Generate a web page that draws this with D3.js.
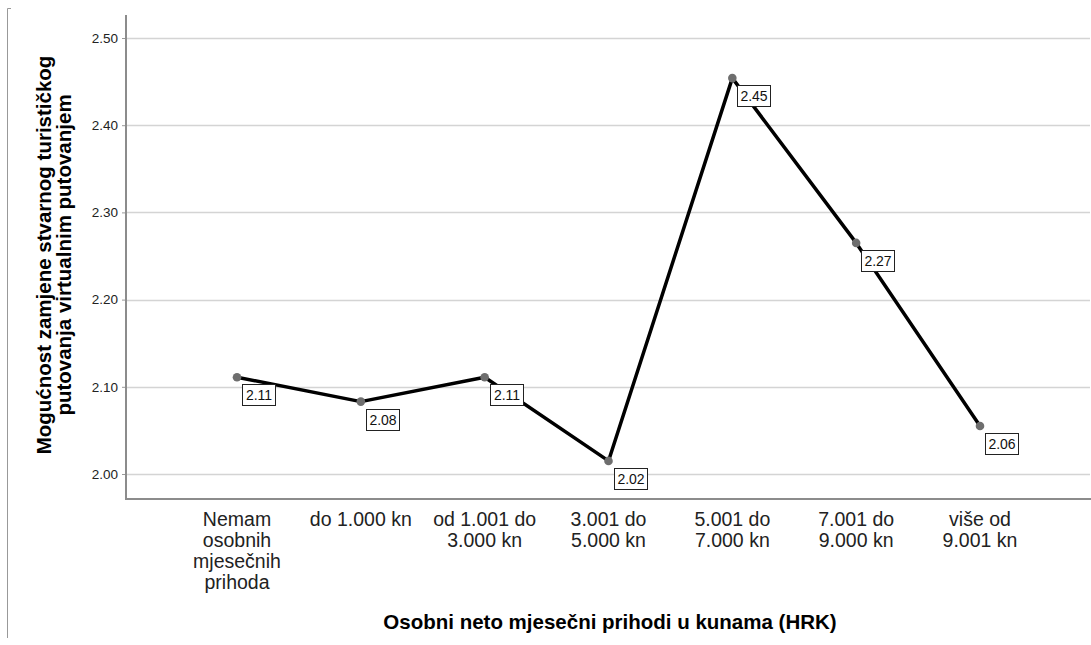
<!DOCTYPE html>
<html><head><meta charset="utf-8">
<script src="https://cdn.jsdelivr.net/npm/d3@7"></script>
<style>body{margin:0;background:#fff;} svg{display:block;}</style>
</head><body>
<svg id="c" width="1091" height="645"></svg>
<script>
const categories = [
  ["Nemam","osobnih","mjesečnih","prihoda"],
  ["do 1.000 kn"],
  ["od 1.001 do","3.000 kn"],
  ["3.001 do","5.000 kn"],
  ["5.001 do","7.000 kn"],
  ["7.001 do","9.000 kn"],
  ["više od","9.001 kn"]
];
const values = [2.111, 2.083, 2.111, 2.015, 2.454, 2.265, 2.055];
const valueLabels = ["2.11","2.08","2.11","2.02","2.45","2.27","2.06"];
const yTicks = [2.00, 2.10, 2.20, 2.30, 2.40, 2.50];
const xTitle = "Osobni neto mjesečni prihodi u kunama (HRK)";
const yTitle = ["Mogućnost zamjene stvarnog turističkog","putovanja virtualnim putovanjem"];

const svg = d3.select("#c");
const font = "Arial, 'Liberation Sans', sans-serif";
const plotL = 126, plotR = 1091, plotT = 15, plotB = 499;

const x = d3.scalePoint().domain(d3.range(categories.length)).range([237, 980]);
const y = d3.scaleLinear().domain([2.0, 2.5]).range([474, 38]);

// outer frame line at left
svg.append("path").attr("d", "M11,8.5H7.5V638").attr("fill","none").attr("stroke","#999").attr("stroke-width",1);

// gridlines
svg.append("g").selectAll("line").data(yTicks).join("line")
  .attr("x1", plotL+1).attr("x2", plotR-1)
  .attr("y1", d => Math.round(y(d))+0.5).attr("y2", d => Math.round(y(d))+0.5)
  .attr("stroke", "#d4d4d4").attr("stroke-width", 1.5);

// y axis
const yAxis = d3.axisLeft(y).tickValues(yTicks).tickFormat(d3.format(".2f")).tickSize(4).tickPadding(4);
const gy = svg.append("g").attr("transform", `translate(${plotL},0)`).call(yAxis);
gy.select(".domain").remove();
gy.selectAll(".tick line").attr("stroke","#999");
gy.selectAll(".tick text").attr("font-family", font).attr("font-size", 13.5).attr("fill","#222");

// axis lines
svg.append("line").attr("x1", plotL).attr("x2", plotL).attr("y1", plotT).attr("y2", plotB)
  .attr("stroke","#8c8c8c").attr("stroke-width",2);
svg.append("line").attr("x1", plotL-1).attr("x2", plotR).attr("y1", plotB).attr("y2", plotB)
  .attr("stroke","#8c8c8c").attr("stroke-width",2);

// x labels
const gx = svg.append("g");
categories.forEach((lines, i) => {
  const t = gx.append("text").attr("x", x(i)).attr("y", 526)
    .attr("text-anchor","middle").attr("font-family", font).attr("font-size", 19.5).attr("fill","#222");
  lines.forEach((l, j) => t.append("tspan").attr("x", x(i)).attr("dy", j ? 21 : 0).text(l));
});

// line
const line = d3.line().x((d,i) => x(i)).y(d => y(d));
svg.append("path").datum(values).attr("d", line).attr("fill","none")
  .attr("stroke","#000").attr("stroke-width",3.5).attr("stroke-linejoin","round");

// points
svg.append("g").selectAll("circle").data(values).join("circle")
  .attr("cx", (d,i) => x(i)).attr("cy", d => y(d)).attr("r", 4.3).attr("fill","#6e6e6e");

// value labels
const lg = svg.append("g");
values.forEach((v, i) => {
  const bx = Math.round(x(i) + 5), by = Math.round(y(v) + 7);
  lg.append("rect").attr("x", bx+0.5).attr("y", by+0.5).attr("width", 33).attr("height", 21)
    .attr("fill","#fff").attr("stroke","#222").attr("stroke-width",1);
  lg.append("text").attr("x", bx + 17).attr("y", by + 16).attr("text-anchor","middle")
    .attr("font-family", font).attr("font-size", 14).attr("fill","#111").text(valueLabels[i]);
});

// titles
svg.append("text").attr("x", 610).attr("y", 629).attr("text-anchor","middle")
  .attr("font-family", font).attr("font-size", 20.5).attr("font-weight","bold").attr("fill","#000").text(xTitle);
const yt = svg.append("text").attr("transform","translate(51,255) rotate(-90)").attr("text-anchor","middle")
  .attr("font-family", font).attr("font-size", 20.5).attr("font-weight","bold").attr("fill","#000");
yTitle.forEach((l, j) => yt.append("tspan").attr("x", 0).attr("dy", j ? 20 : 0).text(l));
</script>
</body></html>
